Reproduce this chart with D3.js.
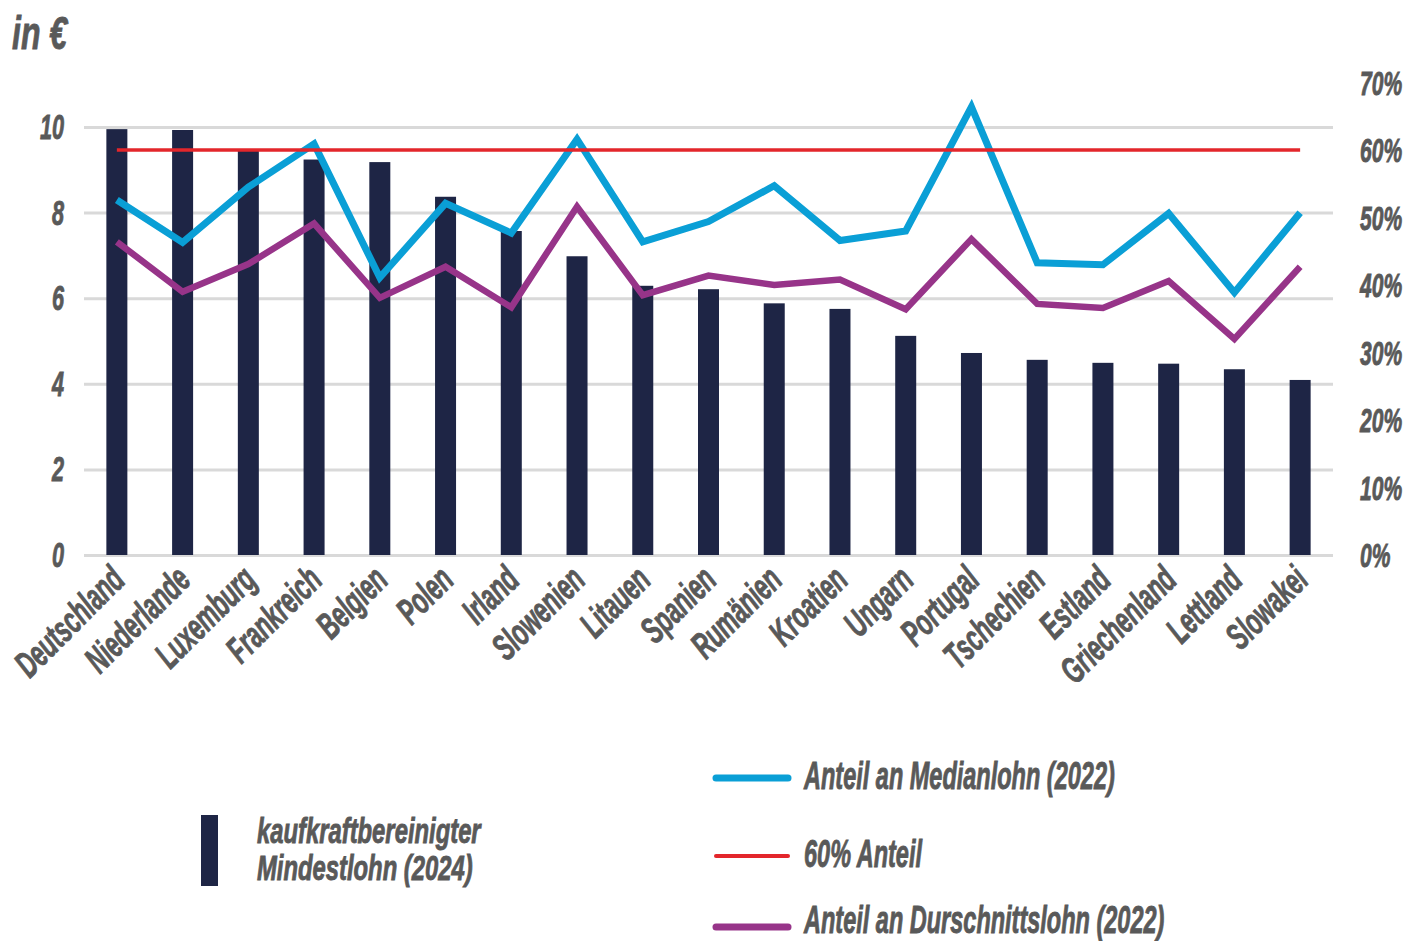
<!DOCTYPE html>
<html>
<head>
<meta charset="utf-8">
<script src="https://cdn.jsdelivr.net/npm/d3@7/dist/d3.min.js"></script>
<style>
  body { margin: 0; background: #fff; }
  text { font-family: "Liberation Sans Narrow", "Arial Narrow", "Liberation Sans", sans-serif; font-weight: bold; font-style: italic; fill: #595959; stroke: #595959; stroke-width: 0.9px; }
</style>
</head>
<body>
<div id="vis"></div>
<script>
const countries = ["Deutschland", "Niederlande", "Luxemburg", "Frankreich", "Belgien", "Polen", "Irland",
  "Slowenien", "Litauen", "Spanien", "Rumänien", "Kroatien", "Ungarn", "Portugal", "Tschechien",
  "Estland", "Griechenland", "Lettland", "Slowakei"];

// kaufkraftbereinigter Mindestlohn (2024), in €
const mindestlohn = [9.95, 9.93, 9.47, 9.24, 9.18, 8.37, 7.57, 6.98, 6.29, 6.21, 5.88, 5.75, 5.12,
  4.72, 4.56, 4.49, 4.47, 4.34, 4.09];

// Anteil an Medianlohn (2022)
const medianShare = [0.526, 0.463, 0.545, 0.609, 0.411, 0.521, 0.477, 0.616, 0.464, 0.494, 0.547,
  0.466, 0.480, 0.664, 0.433, 0.430, 0.506, 0.389, 0.507];

// Anteil an Durchschnittslohn (2022)
const avgShare = [0.464, 0.390, 0.431, 0.491, 0.381, 0.427, 0.367, 0.516, 0.385, 0.414, 0.400,
  0.408, 0.364, 0.468, 0.372, 0.366, 0.406, 0.320, 0.427];

const thresholdShare = 0.6;

const leftTicks = [0, 2, 4, 6, 8, 10];
const rightTicks = [0, 0.1, 0.2, 0.3, 0.4, 0.5, 0.6, 0.7];

const W = 1407, H = 941;
const navy = "#1e2545", blue = "#0a9fd6", red = "#e3262b", purple = "#973489", grid = "#d9d9d9";

const svg = d3.select("#vis").append("svg")
  .attr("width", W).attr("height", H)
  .style("background", "#fff");

// measure the font once and squeeze it to the narrow look of the original
const probe = svg.append("text").style("font-size", "38px").text("Anteil an Medianlohn (2022)");
const sx = 311 / probe.node().getComputedTextLength();
probe.remove();

function label(g, x, y, str, size, anchor, rot, stretch) {
  return g.append("text")
    .attr("transform", "translate(" + x + "," + y + ")" + (rot ? " rotate(" + rot + ")" : "") +
      " scale(" + sx * (stretch || 1) + ",1)")
    .attr("text-anchor", anchor || "start")
    .style("font-size", size + "px")
    .text(str);
}

const x = d3.scaleBand().domain(countries).range([84, 1333]).padding(0);
const y = d3.scaleLinear().domain([0, 10]).range([555, 127]);
const y2 = d3.scaleLinear().domain([0, 0.7]).range([555, 82.5]);

// grid
svg.append("g")
  .attr("transform", "translate(84,0)")
  .call(d3.axisLeft(y).tickValues(leftTicks).tickSize(-(1333 - 84)).tickFormat(""))
  .call(g => g.select(".domain").remove())
  .call(g => g.selectAll("line").attr("stroke", grid).attr("stroke-width", 3));

// left tick labels
const lt = svg.append("g");
leftTicks.forEach(t => label(lt, 64, y(t) + 12, t, 35, "end"));

// right tick labels
const rt = svg.append("g");
rightTicks.forEach(t => label(rt, 1360, y2(t) + 12, d3.format(".0%")(t), 34, "start"));

// title
label(svg, 12, 49, "in €", 47, "start", 0, 1.1);

// bars
const bw = 21;
svg.append("g").selectAll("rect")
  .data(countries)
  .join("rect")
  .attr("x", (d, i) => x(d) + x.bandwidth() / 2 - bw / 2)
  .attr("y", (d, i) => y(mindestlohn[i]))
  .attr("width", bw)
  .attr("height", (d, i) => y(0) - y(mindestlohn[i]))
  .attr("fill", navy);

const line = d3.line()
  .x(d => x(d[0]) + x.bandwidth() / 2)
  .y(d => y2(d[1]));

svg.append("path")
  .datum(countries.map((c, i) => [c, medianShare[i]]))
  .attr("d", line)
  .attr("fill", "none").attr("stroke", blue).attr("stroke-width", 7);

svg.append("path")
  .datum(countries.map((c, i) => [c, avgShare[i]]))
  .attr("d", line)
  .attr("fill", "none").attr("stroke", purple).attr("stroke-width", 6.5);

svg.append("path")
  .datum(countries.map(c => [c, thresholdShare]))
  .attr("d", line)
  .attr("fill", "none").attr("stroke", red).attr("stroke-width", 3.5);

// category labels
const cl = svg.append("g");
countries.forEach(c => label(cl, x(c) + x.bandwidth() / 2 + 10, 582, c, 37, "end", -45));

// legend
const lg = svg.append("g");
lg.append("rect").attr("x", 201).attr("y", 815).attr("width", 17).attr("height", 71).attr("fill", navy);
label(lg, 257, 843, "kaufkraftbereinigter", 35, "start", 0, 1.1);
label(lg, 257, 880, "Mindestlohn (2024)", 35, "start", 0, 1.1);

const legendLines = [
  { name: "Anteil an Medianlohn (2022)", color: blue, w: 7, y: 778, ty: 789 },
  { name: "60% Anteil", color: red, w: 4, y: 856, ty: 867 },
  { name: "Anteil an Durschnittslohn (2022)", color: purple, w: 7, y: 927, ty: 933 }
];
legendLines.forEach(d => {
  lg.append("line").attr("x1", 716).attr("x2", 788).attr("y1", d.y).attr("y2", d.y)
    .attr("stroke", d.color).attr("stroke-width", d.w).attr("stroke-linecap", "round");
  label(lg, 804, d.ty, d.name, 38, "start");
});
</script>
</body>
</html>
